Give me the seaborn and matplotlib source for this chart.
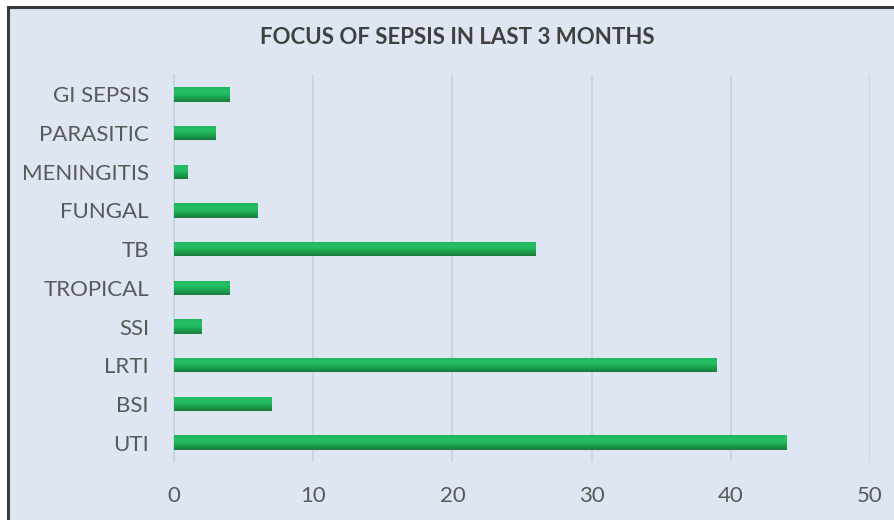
import numpy as np
import pandas as pd
import matplotlib
matplotlib.use("Agg")
import matplotlib.pyplot as plt
from matplotlib.colors import LinearSegmentedColormap
from matplotlib.patches import Rectangle
import seaborn as sns

# Data (top to bottom)
categories = ["GI SEPSIS", "PARASITIC", "MENINGITIS", "FUNGAL", "TB",
              "TROPICAL", "SSI", "LRTI", "BSI", "UTI"]
counts = [4, 3, 1, 6, 26, 4, 2, 39, 7, 44]
x_ticks = [0, 10, 20, 30, 40, 50]

df = pd.DataFrame({"focus": categories, "count": counts})

sns.set_theme(style="white")
plt.rcParams["font.family"] = ["Lato", "DejaVu Sans"]

bg = "#dde6f1"
fig = plt.figure(figsize=(8.94, 5.20), dpi=100)
fig.patch.set_facecolor("white")

# Chart frame
frame = Rectangle((8 / 894, -0.05), 1.2, 1 - 7 / 520 + 0.05,
                  transform=fig.transFigure, facecolor=bg,
                  edgecolor="#3a3a3a", linewidth=2.2, zorder=-10)
fig.patches.append(frame)

ax = fig.add_axes([174 / 894, 1 - 462 / 520, (870 - 174) / 894, (462 - 75) / 520])
ax.set_facecolor("none")

sns.barplot(data=df, x="count", y="focus", order=categories, color="#1cb55a",
            width=0.37, linewidth=0, ax=ax, zorder=3)

# Vertical shading on each bar: bright top, darker bottom edge
cmap = LinearSegmentedColormap.from_list(
    "bar", ["#1fb25a", "#24c066", "#20b85c", "#1a9a4a", "#1b7a3e"])
grad = np.linspace(0, 1, 64).reshape(-1, 1)
for p in ax.patches:
    x0, y0 = p.get_x(), p.get_y()
    w, h = p.get_width(), p.get_height()
    im = ax.imshow(grad, cmap=cmap, aspect="auto", origin="upper",
                   extent=(x0, x0 + w, y0 + h, y0), zorder=4,
                   interpolation="bicubic")
    im.set_clip_path(p)

ax.set_xlim(0, 50)
ax.set_ylim(9.5, -0.5)
ax.set_xticks(x_ticks)
ax.set_xticklabels([str(t) for t in x_ticks])
ax.set_xlabel("")
ax.set_ylabel("")

ax.grid(axis="x", color="#c9d2dc", linewidth=1.1, zorder=0)
ax.grid(axis="y", visible=False)
for s in ["top", "right", "bottom"]:
    ax.spines[s].set_visible(False)
ax.spines["left"].set_color("#c9d2dc")
ax.spines["left"].set_linewidth(1.1)

ax.tick_params(axis="both", length=0, labelsize=16, colors="#595959")
ax.tick_params(axis="x", pad=17)
ax.tick_params(axis="y", pad=18)

fig.text(457 / 894, 1 - 38 / 520, "FOCUS OF SEPSIS IN LAST 3 MONTHS",
         ha="center", va="center", fontsize=16, fontweight="bold",
         color="#404040")

fig.savefig("out.png", dpi=100, facecolor="white")
